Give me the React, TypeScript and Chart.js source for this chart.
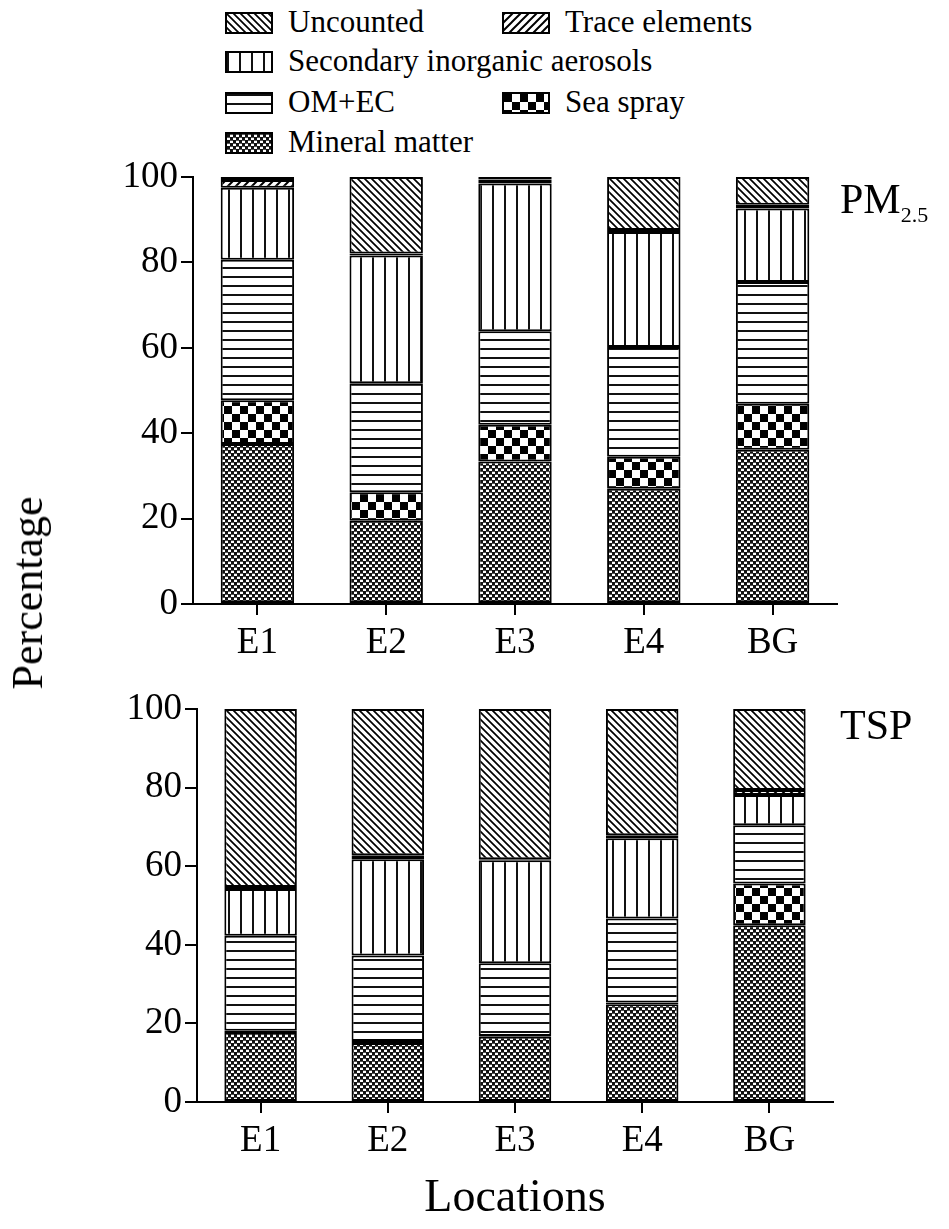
import React, { useEffect, useRef, useMemo } from "react";
import { Chart, registerables } from "chart.js";

Chart.register(...registerables);

const LOCATIONS = ["E1", "E2", "E3", "E4", "BG"];
const COMPONENTS = [
  "Mineral matter",
  "Sea spray",
  "OM+EC",
  "Secondary inorganic aerosols",
  "Trace elements",
  "Uncounted",
];
const PATTERN_KINDS = ["mineral", "sea", "omec", "sia", "trace", "uncounted"];

// PM2.5 composition (%), stacked bottom to top
const PM25_MINERAL = [37.5, 19.5, 33.4, 27.0, 36.1];
const PM25_SEA = [10.2, 6.7, 8.6, 7.5, 10.8];
const PM25_OMEC = [32.9, 25.5, 21.9, 25.7, 28.5];
const PM25_SIA = [16.9, 29.9, 34.6, 26.9, 17.2];
const PM25_TRACE = [1.8, 0.5, 0.9, 0.5, 0.9];
const PM25_UNCOUNTED = [0.7, 17.9, 0.6, 12.4, 6.5];

// TSP composition (%), stacked bottom to top
const TSP_MINERAL = [17.8, 15.0, 16.6, 24.9, 45.0];
const TSP_SEA = [0.3, 0.5, 0.2, 0.4, 10.6];
const TSP_OMEC = [24.2, 21.8, 18.5, 21.4, 14.8];
const TSP_SIA = [11.9, 24.5, 26.2, 20.4, 7.7];
const TSP_TRACE = [0.5, 1.0, 0.3, 0.8, 1.3];
const TSP_UNCOUNTED = [45.3, 37.2, 38.2, 32.1, 20.6];

const Y_TICKS = [0, 20, 40, 60, 80, 100];

const PM25_SERIES = [PM25_MINERAL, PM25_SEA, PM25_OMEC, PM25_SIA, PM25_TRACE, PM25_UNCOUNTED];
const TSP_SERIES = [TSP_MINERAL, TSP_SEA, TSP_OMEC, TSP_SIA, TSP_TRACE, TSP_UNCOUNTED];

const FONT = "'Liberation Serif', 'Times New Roman', serif";

function makeTile(kind: string): HTMLCanvasElement {
  const c = document.createElement("canvas");
  const set = (w: number, h: number) => {
    c.width = w;
    c.height = h;
  };
  let ctx: CanvasRenderingContext2D;
  switch (kind) {
    case "mineral": {
      set(6, 6);
      ctx = c.getContext("2d")!;
      ctx.fillStyle = "#fff";
      ctx.fillRect(0, 0, 6, 6);
      ctx.fillStyle = "#111";
      ctx.fillRect(0, 0, 3, 3);
      ctx.fillRect(3, 3, 3, 3);
      ctx.fillStyle = "#555";
      ctx.fillRect(3, 0, 3, 1);
      ctx.fillRect(0, 3, 3, 1);
      break;
    }
    case "sea": {
      set(16, 16);
      ctx = c.getContext("2d")!;
      ctx.fillStyle = "#fff";
      ctx.fillRect(0, 0, 16, 16);
      ctx.fillStyle = "#000";
      ctx.fillRect(0, 0, 8, 8);
      ctx.fillRect(8, 8, 8, 8);
      break;
    }
    case "omec": {
      set(9, 9);
      ctx = c.getContext("2d")!;
      ctx.fillStyle = "#fff";
      ctx.fillRect(0, 0, 9, 9);
      ctx.fillStyle = "#111";
      ctx.fillRect(0, 0, 9, 2);
      break;
    }
    case "sia": {
      set(12, 12);
      ctx = c.getContext("2d")!;
      ctx.fillStyle = "#fff";
      ctx.fillRect(0, 0, 12, 12);
      ctx.fillStyle = "#111";
      ctx.fillRect(0, 0, 2, 12);
      break;
    }
    case "trace": {
      const s = 8;
      set(s, s);
      ctx = c.getContext("2d")!;
      ctx.fillStyle = "#fff";
      ctx.fillRect(0, 0, s, s);
      ctx.strokeStyle = "#000";
      ctx.lineWidth = 2;
      ctx.beginPath();
      ctx.moveTo(-1, s + 1);
      ctx.lineTo(s + 1, -1);
      ctx.moveTo(-1, 1);
      ctx.lineTo(1, -1);
      ctx.moveTo(s - 1, s + 1);
      ctx.lineTo(s + 1, s - 1);
      ctx.stroke();
      break;
    }
    default: {
      const s = 7;
      set(s, s);
      ctx = c.getContext("2d")!;
      ctx.fillStyle = "#fff";
      ctx.fillRect(0, 0, s, s);
      ctx.strokeStyle = "#000";
      ctx.lineWidth = 1.7;
      ctx.beginPath();
      ctx.moveTo(-1, -1);
      ctx.lineTo(s + 1, s + 1);
      ctx.moveTo(s - 1, -1);
      ctx.lineTo(s + 1, 1);
      ctx.moveTo(-1, s - 1);
      ctx.lineTo(1, s + 1);
      ctx.stroke();
      break;
    }
  }
  return c;
}

interface PanelProps {
  series: number[][];
  top: number;
  height: number;
  areaTop: number;
  areaLeft: number;
  areaRight: number;
  xAxisHeight: number;
  xTitle?: string;
}

function Panel({ series, top, height, areaTop, areaLeft, areaRight, xAxisHeight, xTitle }: PanelProps) {
  const ref = useRef<HTMLCanvasElement>(null);
  useEffect(() => {
    const canvas = ref.current!;
    const ctx = canvas.getContext("2d")!;
    const patterns = PATTERN_KINDS.map((k) => ctx.createPattern(makeTile(k), "repeat")!);
    const chart = new Chart(canvas, {
      type: "bar",
      data: {
        labels: LOCATIONS,
        datasets: COMPONENTS.map((name, i) => ({
          label: name,
          data: series[i],
          backgroundColor: patterns[i],
          borderColor: "#000",
          borderWidth: 2,
          borderSkipped: false,
          barPercentage: 0.57,
          categoryPercentage: 1,
        })),
      },
      options: {
        animation: false,
        responsive: false,
        maintainAspectRatio: false,
        layout: { padding: { top: areaTop, right: 949 - areaRight, left: 0, bottom: 0 } },
        plugins: { legend: { display: false }, tooltip: { enabled: false } },
        scales: {
          x: {
            stacked: true,
            grid: {
              display: true,
              offset: false,
              drawOnChartArea: false,
              drawTicks: true,
              tickLength: 11,
              color: "#000",
              lineWidth: 2,
            },
            border: { display: true, color: "#000", width: 2 },
            ticks: { color: "#000", font: { family: FONT, size: 37 }, padding: 6 },
            title: xTitle
              ? {
                  display: true,
                  text: xTitle,
                  color: "#000",
                  font: { family: FONT, size: 46 },
                  padding: { top: 0, bottom: 2 },
                }
              : { display: false },
            afterFit: (s: any) => {
              s.height = xAxisHeight;
            },
          },
          y: {
            stacked: true,
            min: 0,
            max: 100,
            afterBuildTicks: (s: any) => {
              s.ticks = Y_TICKS.map((v) => ({ value: v }));
            },
            grid: {
              display: true,
              drawOnChartArea: false,
              drawTicks: true,
              tickLength: 12,
              color: "#000",
              lineWidth: 2,
            },
            border: { display: true, color: "#000", width: 2 },
            ticks: { color: "#000", font: { family: FONT, size: 37 }, padding: 3 },
            afterFit: (s: any) => {
              s.width = areaLeft;
            },
          },
        },
      },
    } as any);
    return () => chart.destroy();
  }, []);
  return (
    <canvas
      ref={ref}
      width={949}
      height={height}
      style={{ position: "absolute", left: 0, top, width: 949, height }}
    />
  );
}

const LEGEND_ITEMS = [
  { kind: "uncounted", label: "Uncounted", x: 225, y: 23 },
  { kind: "trace", label: "Trace elements", x: 502, y: 23 },
  { kind: "sia", label: "Secondary inorganic aerosols", x: 225, y: 62 },
  { kind: "omec", label: "OM+EC", x: 225, y: 103 },
  { kind: "sea", label: "Sea spray", x: 502, y: 103 },
  { kind: "mineral", label: "Mineral matter", x: 225, y: 143 },
];

function Legend() {
  const urls = useMemo(() => {
    const m: Record<string, string> = {};
    PATTERN_KINDS.forEach((k) => {
      m[k] = makeTile(k).toDataURL();
    });
    return m;
  }, []);
  return (
    <>
      {LEGEND_ITEMS.map((it) => (
        <React.Fragment key={it.label}>
          <div
            style={{
              position: "absolute",
              left: it.x,
              top: it.y - 11,
              width: 48,
              height: 22,
              boxSizing: "border-box",
              border: "2px solid #000",
              backgroundImage: `url(${urls[it.kind]})`,
              backgroundRepeat: "repeat",
            }}
          />
          <div
            style={{
              position: "absolute",
              left: it.x + 63,
              top: it.y - 19,
              fontSize: 31,
              fontFamily: FONT,
              lineHeight: "36px",
              whiteSpace: "nowrap",
              color: "#000",
            }}
          >
            {it.label}
          </div>
        </React.Fragment>
      ))}
    </>
  );
}

export default function App() {
  return (
    <div
      style={{
        position: "absolute",
        left: 0,
        top: 0,
        width: 949,
        height: 1229,
        background: "#fff",
        fontFamily: FONT,
        color: "#000",
        overflow: "hidden",
      }}
    >
      <Legend />
      <Panel
        series={PM25_SERIES}
        top={150}
        height={520}
        areaTop={27}
        areaLeft={193}
        areaRight={837}
        xAxisHeight={520 - 454}
      />
      <Panel
        series={TSP_SERIES}
        top={680}
        height={549}
        areaTop={29}
        areaLeft={197}
        areaRight={833}
        xAxisHeight={549 - 422}
        xTitle="Locations"
      />
      <div
        style={{
          position: "absolute",
          left: 840,
          top: 178,
          fontSize: 42,
          lineHeight: 1,
          whiteSpace: "nowrap",
        }}
      >
        PM<span style={{ fontSize: 22, position: "relative", top: 9 }}>2.5</span>
      </div>
      <div
        style={{
          position: "absolute",
          left: 840,
          top: 704,
          fontSize: 42,
          lineHeight: 1,
          whiteSpace: "nowrap",
        }}
      >
        TSP
      </div>
      <div
        style={{
          position: "absolute",
          left: 28,
          top: 593,
          fontSize: 44,
          lineHeight: 1,
          whiteSpace: "nowrap",
          transform: "translate(-50%, -50%) rotate(-90deg)",
        }}
      >
        Percentage
      </div>
    </div>
  );
}
